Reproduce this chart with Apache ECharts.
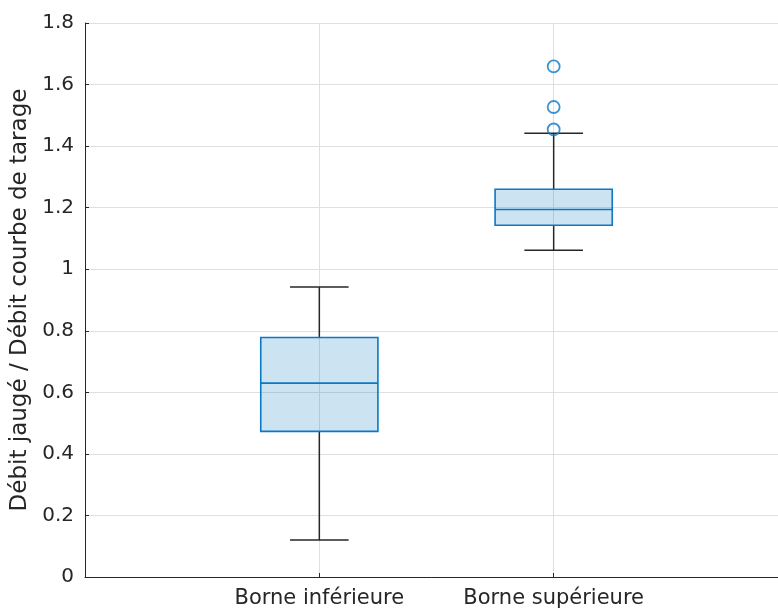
<!DOCTYPE html>
<html>
<head>
<meta charset="utf-8">
<script src="https://cdn.jsdelivr.net/npm/echarts@6/dist/echarts.min.js"></script>
<style>html,body{margin:0;padding:0;background:#fff;}#c{width:778px;height:610px;}</style>
</head>
<body>
<div id="c"></div>
<script>
const categories = ['Borne inférieure', 'Borne supérieure'];
const positions = [1, 2];
const lowerWhisker = [0.120, 1.062];
const q1 = [0.473, 1.143];
const median = [0.630, 1.194];
const q3 = [0.778, 1.260];
const upperWhisker = [0.942, 1.442];
const outlierPos = [2, 2, 2];
const outlierValues = [1.659, 1.527, 1.454];
const yTicks = [0, 0.2, 0.4, 0.6, 0.8, 1, 1.2, 1.4, 1.6, 1.8];

const blue = '#0a78c6';
const dark = '#262626';
const font = 'DejaVu Sans';

const boxData = positions.map((p, i) => [p, lowerWhisker[i], q1[i], median[i], q3[i], upperWhisker[i]]);
const outlierData = outlierPos.map((p, i) => [p, outlierValues[i]]);

const chart = echarts.init(document.getElementById('c'));
chart.setOption({
  animation: false,
  backgroundColor: '#fff',
  grid: { left: 85, width: 703, top: 23, bottom: 33, containLabel: false, outerBoundsMode: 'none' },
  xAxis: {
    type: 'value', min: 0, max: 3, interval: 1,
    axisLine: { show: true, lineStyle: { color: dark, width: 1 } },
    axisTick: { show: true, inside: true, length: 4, lineStyle: { color: dark } },
    axisLabel: {
      color: dark, fontFamily: font, fontSize: 21, margin: 11,
      formatter: v => { const k = positions.indexOf(v); return k >= 0 ? categories[k] : ''; }
    },
    splitLine: { show: true, lineStyle: { color: '#dfdfdf', width: 1 } }
  },
  yAxis: {
    type: 'value', min: 0, max: 1.8, interval: 0.2,
    name: 'Débit jaugé / Débit courbe de tarage',
    nameLocation: 'middle', nameGap: 38, nameRotate: 90,
    nameTextStyle: { color: dark, fontFamily: font, fontSize: 23 },
    axisLine: { show: true, lineStyle: { color: dark, width: 1 } },
    axisTick: { show: true, inside: true, length: 4, lineStyle: { color: dark } },
    axisLabel: {
      color: dark, fontFamily: font, fontSize: 20, margin: 11,
      formatter: v => { const t = yTicks.find(x => Math.abs(x - v) < 1e-9); return t === undefined ? '' : String(t); }
    },
    splitLine: { show: true, lineStyle: { color: '#dfdfdf', width: 1 } }
  },
  series: [
    {
      type: 'custom',
      data: boxData,
      encode: { x: 0, y: [1, 2, 3, 4, 5] },
      renderItem: function (params, api) {
        const x = api.value(0);
        const pLow = api.coord([x, api.value(1)]);
        const pQ1 = api.coord([x, api.value(2)]);
        const pMed = api.coord([x, api.value(3)]);
        const pQ3 = api.coord([x, api.value(4)]);
        const pHigh = api.coord([x, api.value(5)]);
        const boxW = api.size([0.5, 0])[0];
        const capW = api.size([0.25, 0])[0];
        const cx = pMed[0];
        const black = { stroke: dark, lineWidth: 1.5 };
        return {
          type: 'group',
          children: [
            { type: 'line', shape: { x1: cx, y1: pQ3[1], x2: cx, y2: pHigh[1] }, style: black },
            { type: 'line', shape: { x1: cx, y1: pQ1[1], x2: cx, y2: pLow[1] }, style: black },
            { type: 'line', shape: { x1: cx - capW / 2, y1: pHigh[1], x2: cx + capW / 2, y2: pHigh[1] }, style: black },
            { type: 'line', shape: { x1: cx - capW / 2, y1: pLow[1], x2: cx + capW / 2, y2: pLow[1] }, style: black },
            { type: 'rect', shape: { x: cx - boxW / 2, y: pQ3[1], width: boxW, height: pQ1[1] - pQ3[1] },
              style: { fill: 'rgba(0,114,189,0.2)', stroke: blue, lineWidth: 1.6 } },
            { type: 'line', shape: { x1: cx - boxW / 2, y1: pMed[1], x2: cx + boxW / 2, y2: pMed[1] },
              style: { stroke: blue, lineWidth: 1.6 } }
          ]
        };
      }
    },
    {
      type: 'scatter',
      data: outlierData,
      symbol: 'circle',
      symbolSize: 12,
      itemStyle: { color: 'transparent', borderColor: blue, borderWidth: 1.8 }
    }
  ]
});
</script>
</body>
</html>
